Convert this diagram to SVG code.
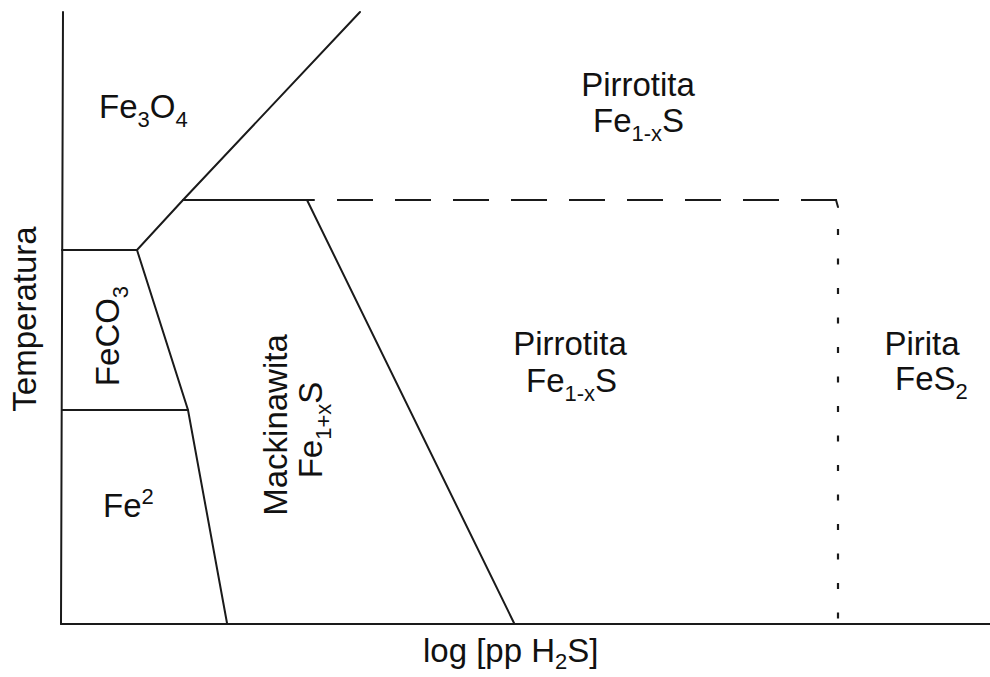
<svg xmlns="http://www.w3.org/2000/svg" width="990" height="677" viewBox="0 0 990 677">
  <style>
    .ln { stroke: #1a1a1a; stroke-width: 2; fill: none; stroke-linecap: round; }
    .dash { stroke: #1a1a1a; stroke-width: 2.2; fill: none; stroke-dasharray: 36 22; }
    .dot { stroke: #1a1a1a; stroke-width: 2.2; fill: none; stroke-dasharray: 6 23.5; }
    text { font-family: "Liberation Sans", Arial, sans-serif; font-size: 33px; fill: #111; }
    .sub { font-size: 22px; }
  </style>
  <rect width="990" height="677" fill="#fff"/>

  <!-- axes and phase boundaries -->
  <g id="connectors">
    <line class="ln" x1="63" y1="12" x2="61" y2="624"/>
    <line class="ln" x1="61" y1="624" x2="990" y2="624"/>
    <polyline class="ln" points="360,12 183,200 137,250 62,250"/>
    <polyline class="ln" points="137,250 188,410 227,623"/>
    <line class="ln" x1="62" y1="410" x2="188" y2="410"/>
    <line class="ln" x1="183" y1="200" x2="314" y2="200"/>
    <line class="ln" x1="307" y1="200" x2="514" y2="623"/>
    <line class="dash" x1="337" y1="200" x2="838" y2="200"/>
    <line class="ln" x1="836" y1="200" x2="838" y2="207"/>
    <line class="dot" x1="838" y1="229" x2="838" y2="624"/>
  </g>

  <!-- axis titles -->
  <g id="axis-y">
    <text transform="translate(36,319) rotate(-90)" text-anchor="middle">Temperatura</text>
  </g>
  <g id="axis-x">
    <text x="423" y="662">log [pp H<tspan class="sub" dy="7">2</tspan><tspan dy="-7">S]</tspan></text>
  </g>

  <!-- stability fields -->
  <g id="magnetite">
    <text x="99" y="118">Fe<tspan class="sub" dy="9">3</tspan><tspan dy="-9">O</tspan><tspan class="sub" dy="9">4</tspan></text>
  </g>
  <g id="pyrrhotite-high">
    <text x="638" y="96" text-anchor="middle">Pirrotita</text>
    <text x="593" y="132">Fe<tspan class="sub" dy="9">1-x</tspan><tspan dy="-9">S</tspan></text>
  </g>
  <g id="siderite">
    <text transform="translate(119,336) rotate(-90)" text-anchor="middle">FeCO<tspan class="sub" dy="9">3</tspan></text>
  </g>
  <g id="iron">
    <text x="103" y="517">Fe<tspan class="sub" dy="-13">2</tspan></text>
  </g>
  <g id="mackinawite">
    <text transform="translate(287,425) rotate(-90)" text-anchor="middle">Mackinawita</text>
    <text transform="translate(322,430) rotate(-90)" text-anchor="middle">Fe<tspan class="sub" dy="9">1+x</tspan><tspan dy="-9">S</tspan></text>
  </g>
  <g id="pyrrhotite">
    <text x="570" y="355" text-anchor="middle">Pirrotita</text>
    <text x="526" y="392">Fe<tspan class="sub" dy="9">1-x</tspan><tspan dy="-9">S</tspan></text>
  </g>
  <g id="pyrite">
    <text x="922" y="355" text-anchor="middle">Pirita</text>
    <text x="895" y="390">FeS<tspan class="sub" dy="9">2</tspan></text>
  </g>
</svg>
